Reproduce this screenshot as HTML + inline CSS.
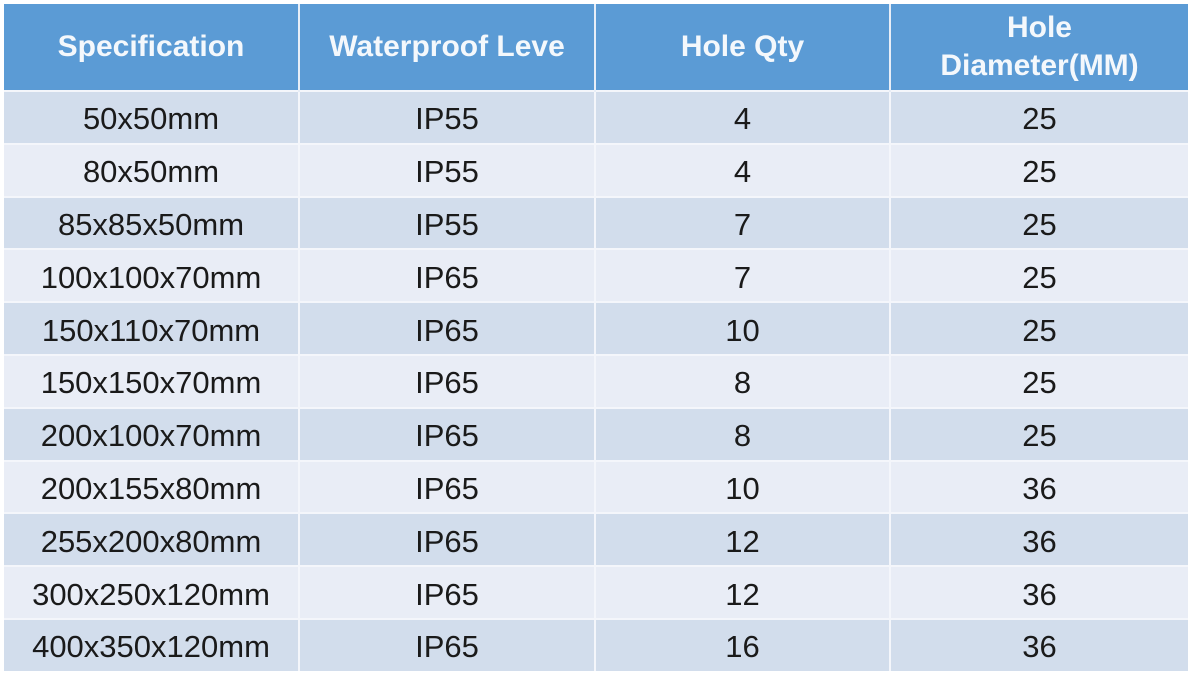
<!DOCTYPE html>
<html><head><style>
html,body{margin:0;padding:0;background:#fff;width:1192px;height:683px;overflow:hidden}
table{position:absolute;left:4px;top:4px;border-collapse:collapse;width:1184px;table-layout:fixed;font-family:"Liberation Sans",sans-serif}
th{background:#5b9bd5;color:#f4f8fc;font-weight:bold;font-size:30px;height:86px;border-right:2px solid #e8eef7;line-height:38px;padding:0}
td{height:46.8px;font-size:31px;color:#1a1a1a;text-align:center;border-right:2px solid #f4f6fb;border-top:2px solid #f4f6fb;padding:4px 0 0 0;line-height:30px}
tr:nth-child(odd) td{background:#d2ddec}
tr:nth-child(even) td{background:#e9edf6}
th:last-child,td:last-child{border-right:none}
</style></head><body>
<table>
<colgroup><col style="width:295px"><col style="width:296px"><col style="width:295px"><col style="width:298px"></colgroup>
<thead><tr><th>Specification</th><th>Waterproof Leve</th><th>Hole Qty</th><th>Hole<br>Diameter(MM)</th></tr></thead>
<tbody>
<tr><td>50x50mm</td><td>IP55</td><td>4</td><td>25</td></tr>
<tr><td>80x50mm</td><td>IP55</td><td>4</td><td>25</td></tr>
<tr><td>85x85x50mm</td><td>IP55</td><td>7</td><td>25</td></tr>
<tr><td>100x100x70mm</td><td>IP65</td><td>7</td><td>25</td></tr>
<tr><td>150x110x70mm</td><td>IP65</td><td>10</td><td>25</td></tr>
<tr><td>150x150x70mm</td><td>IP65</td><td>8</td><td>25</td></tr>
<tr><td>200x100x70mm</td><td>IP65</td><td>8</td><td>25</td></tr>
<tr><td>200x155x80mm</td><td>IP65</td><td>10</td><td>36</td></tr>
<tr><td>255x200x80mm</td><td>IP65</td><td>12</td><td>36</td></tr>
<tr><td>300x250x120mm</td><td>IP65</td><td>12</td><td>36</td></tr>
<tr><td>400x350x120mm</td><td>IP65</td><td>16</td><td>36</td></tr>
</tbody></table>
</body></html>
